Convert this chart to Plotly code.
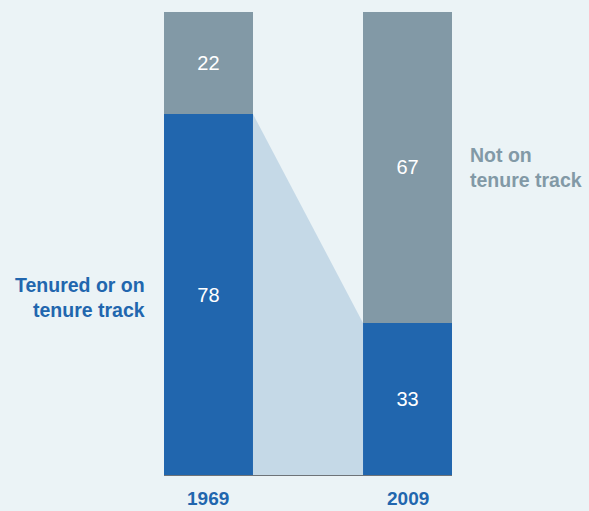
import plotly.graph_objects as go

years = ["1969", "2009"]
tenured = [78, 33]
not_tenured = [22, 67]

BLUE = "#2166AE"
GRAY = "#8299A6"
LIGHT = "#C5D9E7"
BG = "#EBF3F6"
FONT = "Liberation Sans, Arial, Helvetica, sans-serif"

xpos = [0, 1]
w = 0.447

fig = go.Figure()

# connecting shaded polygon
fig.add_trace(go.Scatter(
    x=[xpos[0] + w / 2, xpos[1] - w / 2, xpos[1] - w / 2, xpos[0] + w / 2],
    y=[tenured[0], tenured[1], 0, 0],
    fill="toself", fillcolor=LIGHT, mode="lines", line=dict(width=0),
    hoverinfo="skip", showlegend=False))

fig.add_trace(go.Bar(
    x=xpos, y=tenured, width=w, marker=dict(color=BLUE, line=dict(width=0)),
    text=[str(v) for v in tenured], textposition="inside", insidetextanchor="middle",
    textfont=dict(color="white", size=20, family=FONT), showlegend=False))
fig.add_trace(go.Bar(
    x=xpos, y=not_tenured, width=w, marker=dict(color=GRAY, line=dict(width=0)),
    text=[str(v) for v in not_tenured], textposition="inside", insidetextanchor="middle",
    textfont=dict(color="white", size=20, family=FONT), showlegend=False))

fig.update_layout(
    barmode="stack",
    width=589, height=511,
    margin=dict(l=164, r=137, t=12, b=35),
    paper_bgcolor=BG, plot_bgcolor=BG,
    xaxis=dict(range=[-w / 2, 1 + w / 2], showgrid=False, zeroline=False,
               showticklabels=False, fixedrange=True),
    yaxis=dict(range=[0, 100], showgrid=False, zeroline=False,
               showticklabels=False, fixedrange=True),
    font=dict(family=FONT),
    uniformtext=dict(mode="show", minsize=20),
)

# baseline
fig.add_shape(type="line", xref="x", yref="y", x0=-w / 2, x1=1 + w / 2, y0=0, y1=0,
              line=dict(color="#6E7378", width=2), layer="above")

for x, yr in zip(xpos, years):
    fig.add_annotation(x=x, y=0, xref="x", yref="y", text=f"<b>{yr}</b>",
                       showarrow=False, yanchor="top", yshift=-10,
                       font=dict(size=19, color=BLUE, family=FONT))

fig.add_annotation(x=-17 / 288, y=(476 - 297) / 464, xref="paper", yref="paper",
                   text="<b>Tenured or on<br>tenure track</b>", showarrow=False,
                   xanchor="right", yanchor="middle", align="right",
                   font=dict(size=19.5, color=BLUE, family=FONT))
fig.add_annotation(x=1 + 16 / 288, y=(476 - 168) / 464, xref="paper", yref="paper",
                   text="<b>Not on<br>tenure track</b>", showarrow=False,
                   xanchor="left", yanchor="middle", align="left",
                   font=dict(size=19.5, color=GRAY, family=FONT))

fig.write_html("out.html", config={"displayModeBar": False},
               post_script="document.body.style.margin='0';")
